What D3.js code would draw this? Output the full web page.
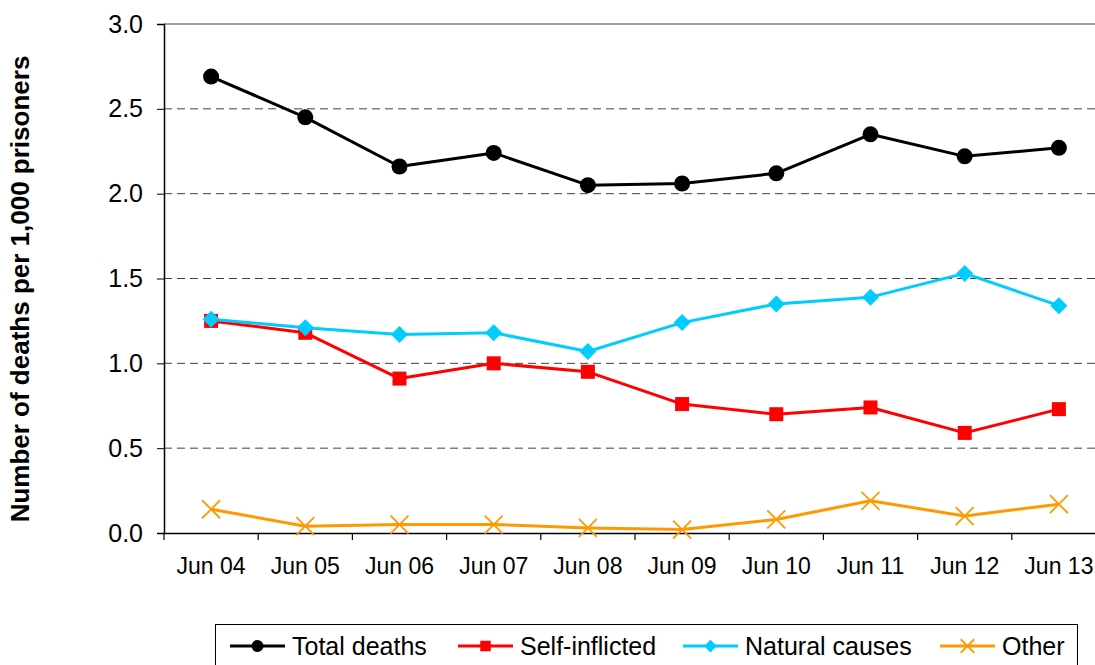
<!DOCTYPE html>
<html>
<head>
<meta charset="utf-8">
<script src="https://cdn.jsdelivr.net/npm/d3@7"></script>
<style>
  body { margin: 0; background: #fff; }
  svg { display: block; font-family: "Liberation Sans", Arial, sans-serif; }
</style>
</head>
<body>
<svg id="chart" width="1095" height="665"></svg>
<script>
const categories = ['Jun 04', 'Jun 05', 'Jun 06', 'Jun 07', 'Jun 08', 'Jun 09', 'Jun 10', 'Jun 11', 'Jun 12', 'Jun 13'];
const totalDeaths = [2.69, 2.45, 2.16, 2.24, 2.05, 2.06, 2.12, 2.35, 2.22, 2.27];
const selfInflicted = [1.25, 1.18, 0.91, 1.00, 0.95, 0.76, 0.70, 0.74, 0.59, 0.73];
const naturalCauses = [1.26, 1.21, 1.17, 1.18, 1.07, 1.24, 1.35, 1.39, 1.53, 1.34];
const other = [0.14, 0.04, 0.05, 0.05, 0.03, 0.02, 0.08, 0.19, 0.10, 0.17];
const yTicks = [0, 0.5, 1.0, 1.5, 2.0, 2.5, 3.0];

const series = [
  { name: 'Total deaths', values: totalDeaths, color: '#000000', marker: 'circle' },
  { name: 'Self-inflicted', values: selfInflicted, color: '#ff0000', marker: 'square' },
  { name: 'Natural causes', values: naturalCauses, color: '#00ccff', marker: 'diamond' },
  { name: 'Other', values: other, color: '#ff9900', marker: 'cross' }
];

const svg = d3.select('#chart');
const plotLeft = 164, plotTop = 24, plotW = 942, plotH = 509;

const x = d3.scaleBand().domain(categories).range([plotLeft, plotLeft + plotW]);
const y = d3.scaleLinear().domain([0, 3]).range([plotTop + plotH, plotTop]);

// Grid lines
svg.append('g')
  .selectAll('line')
  .data(yTicks.filter(d => d > 0))
  .join('line')
  .attr('x1', plotLeft).attr('x2', plotLeft + plotW)
  .attr('y1', d => y(d)).attr('y2', d => y(d))
  .attr('stroke', d => d === 3 ? '#808080' : '#404040')
  .attr('stroke-width', d => d === 3 ? 1.5 : 1)
  .attr('stroke-dasharray', d => d === 3 ? null : '8,5');

// Y axis
const yAxis = svg.append('g')
  .attr('transform', `translate(${plotLeft},0)`)
  .call(d3.axisLeft(y).tickValues(yTicks).tickSize(7).tickPadding(14).tickFormat(d3.format('.1f')));
yAxis.select('.domain').attr('stroke', '#000').attr('stroke-width', 1.5);
yAxis.selectAll('.tick line').attr('stroke', '#000');
yAxis.selectAll('text').attr('font-size', '25px').attr('fill', '#000')
  .attr('font-family', '"Liberation Sans", Arial, sans-serif');

// X axis
const xAxis = svg.append('g')
  .attr('transform', `translate(0,${plotTop + plotH})`)
  .call(d3.axisBottom(x).tickSize(0).tickPadding(25));
xAxis.select('.domain').attr('stroke', '#000').attr('stroke-width', 1.5);
xAxis.selectAll('text').attr('font-size', '23px').attr('fill', '#000')
  .attr('font-family', '"Liberation Sans", Arial, sans-serif');
// ticks between categories
svg.append('g')
  .selectAll('line')
  .data(categories)
  .join('line')
  .attr('x1', d => x(d)).attr('x2', d => x(d))
  .attr('y1', plotTop + plotH).attr('y2', plotTop + plotH + 7)
  .attr('stroke', '#000').attr('stroke-width', 1.2);

// Y label
svg.append('text')
  .attr('transform', `translate(29,289) rotate(-90)`)
  .attr('text-anchor', 'middle')
  .attr('font-size', '26px')
  .attr('font-weight', 'bold')
  .text('Number of deaths per 1,000 prisoners');

function drawMarker(g, type, color, cx, cy, s) {
  if (type === 'circle') {
    g.append('circle').attr('cx', cx).attr('cy', cy).attr('r', 8 * s).attr('fill', color);
  } else if (type === 'square') {
    g.append('rect').attr('x', cx - 7 * s).attr('y', cy - 7 * s)
      .attr('width', 14 * s).attr('height', 14 * s).attr('fill', color);
  } else if (type === 'diamond') {
    const r = 8.5 * s;
    g.append('path').attr('d', `M${cx},${cy - r}L${cx + r},${cy}L${cx},${cy + r}L${cx - r},${cy}Z`).attr('fill', color);
  } else {
    const r = 9 * s;
    g.append('path').attr('d', `M${cx - r},${cy - r}L${cx + r},${cy + r}M${cx - r},${cy + r}L${cx + r},${cy - r}`)
      .attr('stroke', color).attr('stroke-width', 1.8).attr('fill', 'none');
  }
}

const line = d3.line()
  .x((d, i) => x(categories[i]) + x.bandwidth() / 2)
  .y(d => y(d));

series.forEach(s => {
  svg.append('path')
    .datum(s.values)
    .attr('fill', 'none')
    .attr('stroke', s.color)
    .attr('stroke-width', 3)
    .attr('stroke-linejoin', 'round')
    .attr('d', line);
  const g = svg.append('g');
  s.values.forEach((v, i) => {
    drawMarker(g, s.marker, s.color, x(categories[i]) + x.bandwidth() / 2, y(v), 1);
  });
});

// Legend
const legend = svg.append('g');
legend.append('rect')
  .attr('x', 215.5).attr('y', 624.5).attr('width', 862).attr('height', 50)
  .attr('fill', '#fff').attr('stroke', '#000').attr('stroke-width', 1);
const legendX = [230, 458, 683, 940];
series.forEach((s, i) => {
  const lx = legendX[i], ly = 646;
  legend.append('line').attr('x1', lx).attr('x2', lx + 55).attr('y1', ly).attr('y2', ly)
    .attr('stroke', s.color).attr('stroke-width', 3);
  drawMarker(legend, s.marker, s.color, lx + 27.5, ly, 0.75);
  legend.append('text').attr('x', lx + 62).attr('y', 655)
    .attr('font-size', '25px').attr('fill', '#000').text(s.name);
});
</script>
</body>
</html>
